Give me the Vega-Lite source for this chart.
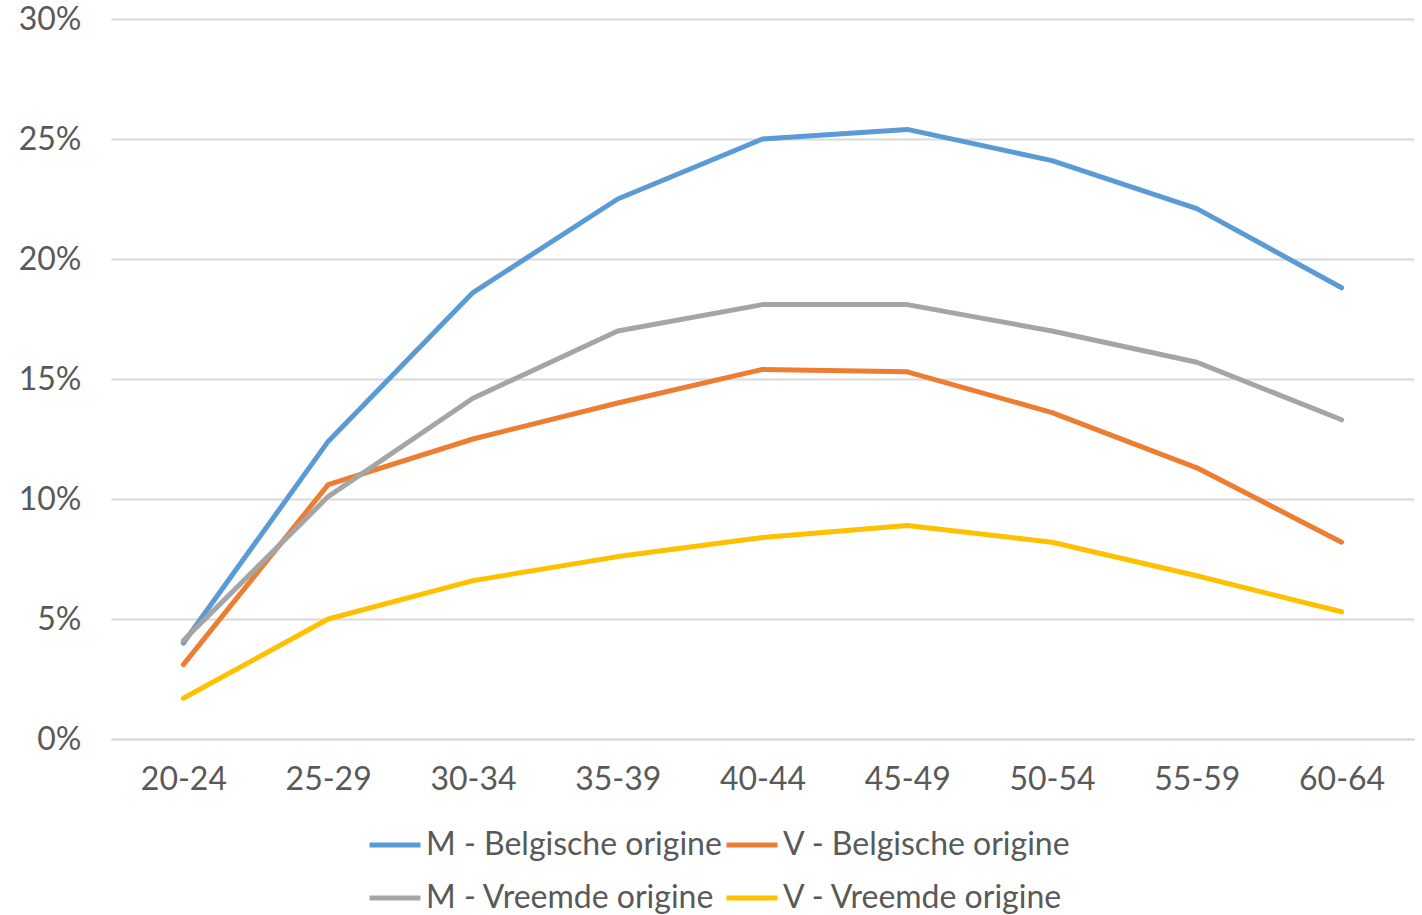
{
  "$schema": "https://vega.github.io/schema/vega-lite/v6.json",
  "width": 1303,
  "height": 720,
  "padding": {"left": 18, "top": 3, "right": 9, "bottom": 0},
  "background": "white",
  "config": {
    "view": {"stroke": null},
    "font": "Lato",
    "axis": {"labelFont": "Lato", "labelColor": "#595959", "labelFontSize": 32, "titleFont": "Lato"},
    "legend": {"labelFont": "Lato", "labelColor": "#595959", "labelFontSize": 32}
  },
  "data": {
    "values": [
      {"age": "20-24", "series": "M - Belgische origine", "value": 4.0},
      {"age": "25-29", "series": "M - Belgische origine", "value": 12.4},
      {"age": "30-34", "series": "M - Belgische origine", "value": 18.6},
      {"age": "35-39", "series": "M - Belgische origine", "value": 22.5},
      {"age": "40-44", "series": "M - Belgische origine", "value": 25.0},
      {"age": "45-49", "series": "M - Belgische origine", "value": 25.4},
      {"age": "50-54", "series": "M - Belgische origine", "value": 24.1},
      {"age": "55-59", "series": "M - Belgische origine", "value": 22.1},
      {"age": "60-64", "series": "M - Belgische origine", "value": 18.8},
      {"age": "20-24", "series": "V - Belgische origine", "value": 3.1},
      {"age": "25-29", "series": "V - Belgische origine", "value": 10.6},
      {"age": "30-34", "series": "V - Belgische origine", "value": 12.5},
      {"age": "35-39", "series": "V - Belgische origine", "value": 14.0},
      {"age": "40-44", "series": "V - Belgische origine", "value": 15.4},
      {"age": "45-49", "series": "V - Belgische origine", "value": 15.3},
      {"age": "50-54", "series": "V - Belgische origine", "value": 13.6},
      {"age": "55-59", "series": "V - Belgische origine", "value": 11.3},
      {"age": "60-64", "series": "V - Belgische origine", "value": 8.2},
      {"age": "20-24", "series": "M - Vreemde origine", "value": 4.1},
      {"age": "25-29", "series": "M - Vreemde origine", "value": 10.1},
      {"age": "30-34", "series": "M - Vreemde origine", "value": 14.2},
      {"age": "35-39", "series": "M - Vreemde origine", "value": 17.0},
      {"age": "40-44", "series": "M - Vreemde origine", "value": 18.1},
      {"age": "45-49", "series": "M - Vreemde origine", "value": 18.1},
      {"age": "50-54", "series": "M - Vreemde origine", "value": 17.0},
      {"age": "55-59", "series": "M - Vreemde origine", "value": 15.7},
      {"age": "60-64", "series": "M - Vreemde origine", "value": 13.3},
      {"age": "20-24", "series": "V - Vreemde origine", "value": 1.7},
      {"age": "25-29", "series": "V - Vreemde origine", "value": 5.0},
      {"age": "30-34", "series": "V - Vreemde origine", "value": 6.6},
      {"age": "35-39", "series": "V - Vreemde origine", "value": 7.6},
      {"age": "40-44", "series": "V - Vreemde origine", "value": 8.4},
      {"age": "45-49", "series": "V - Vreemde origine", "value": 8.9},
      {"age": "50-54", "series": "V - Vreemde origine", "value": 8.2},
      {"age": "55-59", "series": "V - Vreemde origine", "value": 6.8},
      {"age": "60-64", "series": "V - Vreemde origine", "value": 5.3}
    ]
  },
  "mark": {"type": "line", "strokeWidth": 5, "strokeCap": "round", "strokeJoin": "round"},
  "encoding": {
    "x": {
      "field": "age",
      "type": "ordinal",
      "sort": null,
      "scale": {"type": "point", "padding": 0.5},
      "axis": {"title": null, "labelAngle": 0, "ticks": false, "domain": true, "domainColor": "#D9D9D9", "domainWidth": 2, "labelPadding": 25, "grid": false}
    },
    "y": {
      "field": "value",
      "type": "quantitative",
      "scale": {"domain": [0, 30], "nice": false},
      "axis": {"title": null, "values": [0, 5, 10, 15, 20, 25, 30], "labelExpr": "datum.value + '%'", "ticks": false, "domain": false, "gridColor": "#D9D9D9", "gridWidth": 2, "labelPadding": 30}
    },
    "color": {
      "field": "series",
      "type": "nominal",
      "scale": {
        "domain": ["M - Belgische origine", "V - Belgische origine", "M - Vreemde origine", "V - Vreemde origine"],
        "range": ["#5B9BD5", "#ED7D31", "#A5A5A5", "#FFC000"]
      },
      "legend": {
        "title": null,
        "orient": "none",
        "legendX": 256,
        "legendY": 798,
        "direction": "horizontal",
        "columns": 2,
        "symbolType": "stroke",
        "symbolStrokeWidth": 5,
        "symbolSize": 2601,
        "labelOffset": 3,
        "labelLimit": 500,
        "columnPadding": -6,
        "rowPadding": 9
      }
    }
  }
}
